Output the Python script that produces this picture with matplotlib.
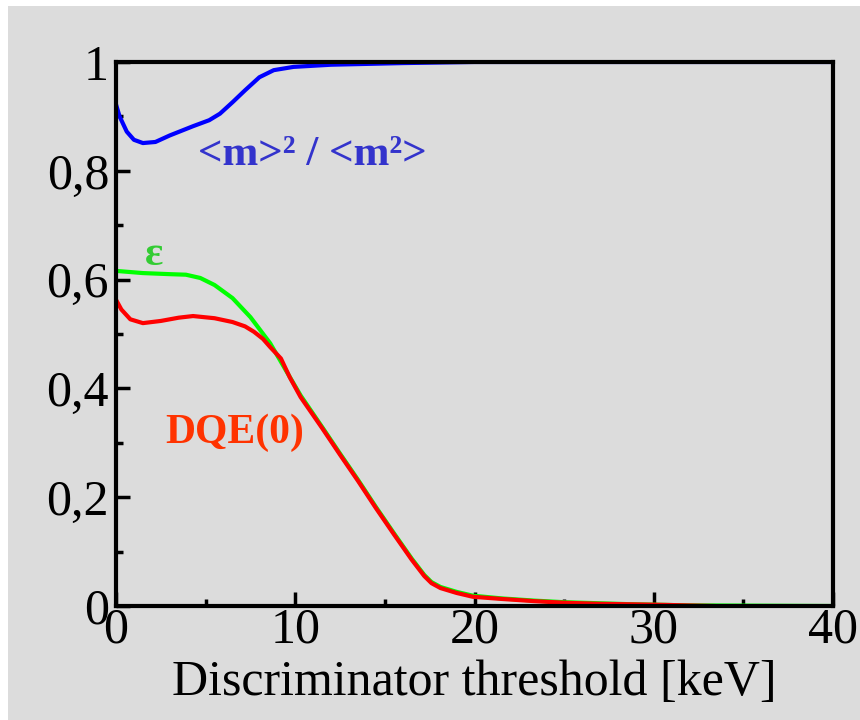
import matplotlib
matplotlib.use('Agg')
import matplotlib.pyplot as plt
from matplotlib.patches import Rectangle

# <m>^2 / <m^2> curve (blue)
blue_x = [0, 0.2, 0.6, 1.0, 1.5, 2.2, 3.0, 4.3, 5.2, 5.8, 6.5, 7.2, 8.0, 8.8, 9.9, 12, 16, 20, 40]
blue_y = [0.922, 0.900, 0.872, 0.857, 0.851, 0.853, 0.865, 0.882, 0.893, 0.905, 0.926, 0.948,
          0.972, 0.985, 0.991, 0.995, 0.998, 1.0, 1.0]

# efficiency epsilon (green)
green_x = [0, 1.5, 3.0, 3.9, 4.7, 5.5, 6.5, 7.5, 8.6, 9.5, 10.3, 11.5, 12.5, 13.5, 14.5, 15.5,
           16.5, 17.2, 17.6, 18.1, 19.0, 19.9, 21.5, 23.3, 25, 27, 29, 30.7, 32, 33.3, 40]
green_y = [0.616, 0.612, 0.610, 0.609, 0.603, 0.590, 0.566, 0.531, 0.483, 0.432, 0.387, 0.329,
           0.280, 0.232, 0.182, 0.134, 0.087, 0.057, 0.044, 0.035, 0.026, 0.019, 0.014, 0.010,
           0.007, 0.005, 0.003, 0.002, 0.001, 0.001, 0.0]

# DQE(0) (red)
red_x = [0, 0.3, 0.8, 1.5, 2.5, 3.5, 4.3, 5.5, 6.5, 7.2, 7.7, 8.2, 8.6, 9.2, 9.7, 10.3, 11.5,
         12.5, 13.5, 14.5, 15.5, 16.5, 17.2, 17.6, 18.1, 19.0, 19.9, 21.5, 23.3, 25, 27, 29,
         30.7, 32, 33.3]
red_y = [0.563, 0.545, 0.527, 0.520, 0.524, 0.530, 0.533, 0.529, 0.522, 0.514, 0.504, 0.491,
         0.476, 0.455, 0.420, 0.384, 0.327, 0.278, 0.230, 0.180, 0.132, 0.085, 0.055, 0.042,
         0.033, 0.024, 0.017, 0.013, 0.009, 0.006, 0.004, 0.003, 0.002, 0.001, 0.0]

x_ticks = [0, 10, 20, 30, 40]
x_minor = [5, 15, 25, 35]
y_ticks = [0, 0.2, 0.4, 0.6, 0.8, 1.0]
y_minor = [0.1, 0.3, 0.5, 0.7, 0.9]
y_labels = ['0', '0,2', '0,4', '0,6', '0,8', '1']

BG = '#dcdcdc'
SERIF = ['Liberation Serif', 'DejaVu Serif']

fig = plt.figure(figsize=(8.6, 7.2), dpi=100, facecolor='white')
# grey panel (thin white strip on top and left as in the original)
fig.patches.append(Rectangle((8 / 860, 0), 1, 1 - 6 / 720, transform=fig.transFigure,
                             facecolor=BG, edgecolor='none', zorder=-10))

ax = fig.add_axes([116 / 860, 1 - 606 / 720, (833 - 116) / 860, (606 - 62) / 720])
ax.set_facecolor(BG)

ax.plot(green_x, green_y, color='#00ff00', lw=3)
ax.plot(red_x, red_y, color='#ff0000', lw=3)
ax.plot(blue_x, blue_y, color='#0000ff', lw=3)

ax.set_xlim(0, 40)
ax.set_ylim(0, 1)
ax.set_xticks(x_ticks)
ax.set_xticks(x_minor, minor=True)
ax.set_xticklabels([str(v) for v in x_ticks])
ax.set_yticks(y_ticks)
ax.set_yticks(y_minor, minor=True)
ax.set_yticklabels(y_labels)

for s in ax.spines.values():
    s.set_linewidth(3)
ax.tick_params(which='major', direction='in', length=10, width=2.5, pad=5)
ax.tick_params(which='minor', direction='in', length=5, width=2.5)
ax.tick_params(axis='x', which='major', pad=1)
for lab in ax.get_xticklabels() + ax.get_yticklabels():
    lab.set_family(SERIF)
    lab.set_fontsize(36)

ax.set_xlabel('Discriminator threshold [keV]', family=SERIF, fontsize=36, labelpad=4)

ax.text(4.57, 0.811, '<m>² / <m²>', color='#3333cc', family=SERIF, fontsize=31,
        fontweight='bold', ha='left', va='baseline')
ax.text(1.62, 0.627, 'ε', color='#33cc33', family=SERIF, fontsize=31,
        fontweight='bold', ha='left', va='baseline')
ax.text(2.73, 0.30, 'DQE(0)', color='#ff3300', family=SERIF, fontsize=30,
        fontweight='bold', ha='left', va='baseline')

fig.savefig('out.png', dpi=100, facecolor=fig.get_facecolor())
